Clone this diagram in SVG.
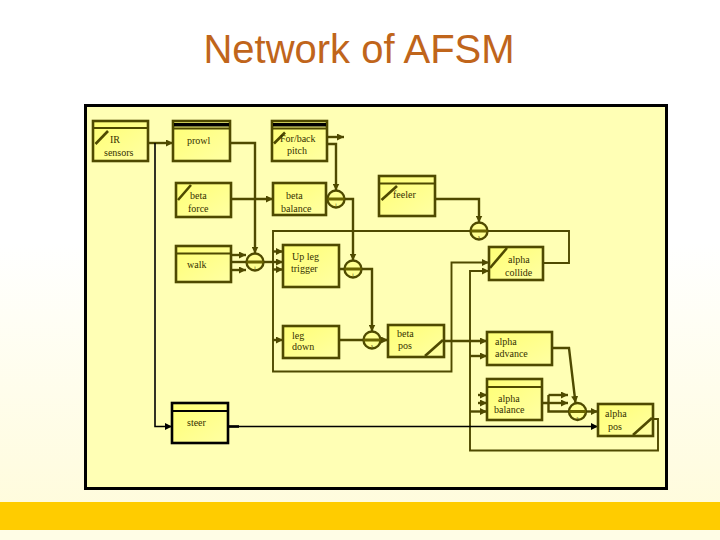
<svg xmlns="http://www.w3.org/2000/svg" width="720" height="540" viewBox="0 0 720 540">
<defs>
<linearGradient id="bg" x1="0" y1="0" x2="0" y2="1">
<stop offset="0" stop-color="#ffffff"/>
<stop offset="0.45" stop-color="#ffffff"/>
<stop offset="1" stop-color="#fffbd8"/>
</linearGradient>
<linearGradient id="bf" x1="0" y1="0" x2="1" y2="1">
<stop offset="0" stop-color="#ffff74"/>
<stop offset="1" stop-color="#ffffa4"/>
</linearGradient>
<marker id="a" markerWidth="7" markerHeight="7" refX="7" refY="3.5" orient="auto" markerUnits="userSpaceOnUse">
<path d="M0,0 L7,3.5 L0,7z" fill="#4f4a00"/>
</marker>
<marker id="ab" markerWidth="7" markerHeight="7" refX="7" refY="3.5" orient="auto" markerUnits="userSpaceOnUse">
<path d="M0,0 L7,3.5 L0,7z" fill="#000"/>
</marker>
<style>
.box{fill:url(#bf);stroke:#4f4a00;stroke-width:2.6}
.bk{fill:url(#bf);stroke:#000;stroke-width:2.6}
.hl{stroke:#4f4a00;stroke-width:2}
.sl{stroke:#4f4a00;stroke-width:2.6}
.t{font-family:"Liberation Serif","Times New Roman",serif;font-size:10px;fill:#363100}
.s{font-family:"Liberation Serif",serif;font-size:5px;fill:#3d3800}
.w{fill:none;stroke:#4f4a00;stroke-width:2.4}
.th{fill:none;stroke:#4f4a00;stroke-width:1.9}
.blk{fill:none;stroke:#000;stroke-width:1.6}
.c{fill:#ffff90;stroke:#4f4a00;stroke-width:2.4}
.cb{fill:#6b6500}
</style>
</defs>
<rect x="0" y="0" width="720" height="540" fill="url(#bg)"/>
<rect x="0" y="502" width="720" height="28" fill="#ffcc00"/>
<rect x="0" y="530" width="720" height="10" fill="#fffde6"/>
<text x="359" y="63" text-anchor="middle" font-family="Liberation Sans, Arial, sans-serif" font-size="40" fill="#c0651b">Network of AFSM</text>
<rect x="85.5" y="105.5" width="581" height="383" fill="#ffffb5" stroke="#000" stroke-width="3"/>

<g id="connectors">
<path class="w" d="M148,143 H173" marker-end="url(#a)"/>
<path class="blk" d="M155,143 V426.5 H172" marker-end="url(#ab)"/>
<path class="w" d="M230,143 H255 V253.5" marker-end="url(#a)"/>
<path class="w" d="M231,199 H273" marker-end="url(#a)"/>
<path class="w" d="M326,199 H344.5"/>
<path class="w" d="M327,137 H344" marker-end="url(#a)"/>
<path class="w" d="M327,144 H336 V190.5" marker-end="url(#a)"/>
<path class="w" d="M344.5,199 H353 V260.5" marker-end="url(#a)"/>
<path class="w" d="M231,255 H246" marker-end="url(#a)"/>
<path class="w" d="M231,262 H247"/>
<path class="w" d="M231,270 H246" marker-end="url(#a)"/>
<path class="w" d="M263.5,262 H283" marker-end="url(#a)"/>
<path class="w" d="M339,269 H372 V331.5" marker-end="url(#a)"/>
<path class="w" d="M339,340 H388" marker-end="url(#a)"/>
<path class="w" d="M435,199 H479 V222.5" marker-end="url(#a)"/>
<path class="th" d="M543,263 H569 V231 H273 V371.5 H451.5 V262.5 H489" marker-end="url(#a)"/>
<path class="w" d="M273,251.5 H283" marker-end="url(#a)"/>
<path class="w" d="M273,269.5 H283" marker-end="url(#a)"/>
<path class="w" d="M273,340 H283" marker-end="url(#a)"/>
<path class="th" d="M653,419 H658 V450.5 H470 V271 H489" marker-end="url(#a)"/>
<path class="w" d="M470,356 H487" marker-end="url(#a)"/>
<path class="w" d="M470,411.5 H487" marker-end="url(#a)"/>
<path class="w" d="M478,395 H487" marker-end="url(#a)"/>
<path class="w" d="M478,403 H487" marker-end="url(#a)"/>
<path class="w" d="M444,341 H487" marker-end="url(#a)"/>
<path class="w" d="M552,348 H569 L575.5,403" marker-end="url(#a)"/>
<path class="w" d="M542,403 H548.5 M548.5,395 V411.5 H569"/>
<path class="w" d="M548.5,395 H568" marker-end="url(#a)"/>
<path class="w" d="M548.5,403 H568" marker-end="url(#a)"/>
<path class="w" d="M586,411.5 H598" marker-end="url(#a)"/>
<path class="blk" d="M228,426.5 H598" marker-end="url(#ab)"/>
<path d="M228,426.5 H239" stroke="#000" stroke-width="2.6"/>
</g>

<g id="c1"><circle class="c" cx="336" cy="199" r="8.5"/><rect class="cb" x="327.5" y="197.5" width="17" height="3"/><text class="s" x="336" y="206" text-anchor="middle">i</text></g>
<g id="c2"><circle class="c" cx="255" cy="262" r="8.5"/><rect class="cb" x="246.5" y="260.5" width="17" height="3"/><text class="s" x="255" y="269" text-anchor="middle">i</text></g>
<g id="c3"><circle class="c" cx="353" cy="269" r="8.5"/><rect class="cb" x="344.5" y="267.5" width="17" height="3"/><text class="s" x="353" y="276" text-anchor="middle">i</text></g>
<g id="c4"><circle class="c" cx="372" cy="340" r="8.5"/><rect class="cb" x="363.5" y="338.5" width="17" height="3"/><text class="s" x="372" y="347" text-anchor="middle">s</text></g>
<g id="c5"><circle class="c" cx="479" cy="231" r="8.5"/><rect class="cb" x="470.5" y="229.5" width="17" height="3"/><text class="s" x="479" y="238" text-anchor="middle">s</text></g>
<g id="c6"><circle class="c" cx="577.5" cy="411.5" r="8.5"/><rect class="cb" x="569" y="410" width="17" height="3"/><text class="s" x="577.5" y="418.5" text-anchor="middle">s</text></g>

<g id="ir-sensors"><rect class="box" x="93" y="121" width="55" height="40"/><line class="hl" x1="93" y1="128" x2="148" y2="128"/><line class="sl" x1="95.5" y1="144" x2="108" y2="131"/><text class="t" x="110" y="143">IR</text><text class="t" x="104" y="156">sensors</text></g>
<g id="prowl"><rect class="box" x="173" y="121" width="57" height="40"/><rect x="174" y="123" width="55" height="3.5" fill="#000"/><line class="hl" x1="173" y1="128.5" x2="230" y2="128.5"/><text class="t" x="187" y="144">prowl</text></g>
<g id="forback-pitch"><rect class="box" x="272" y="121" width="55" height="40"/><rect x="273" y="123" width="53" height="3.5" fill="#000"/><line class="hl" x1="272" y1="128.5" x2="327" y2="128.5"/><line class="sl" x1="274" y1="143.5" x2="285" y2="132.5"/><text class="t" x="280" y="142">For/back</text><text class="t" x="287" y="154">pitch</text></g>
<g id="beta-force"><rect class="box" x="176" y="183" width="55" height="34"/><line class="sl" x1="178" y1="200" x2="191" y2="185"/><text class="t" x="190" y="199">beta</text><text class="t" x="188" y="212">force</text></g>
<g id="beta-balance"><rect class="box" x="273" y="183" width="53" height="32"/><text class="t" x="286" y="199">beta</text><text class="t" x="281" y="212">balance</text></g>
<g id="feeler"><rect class="box" x="379" y="176" width="56" height="40"/><line class="hl" x1="379" y1="183.5" x2="435" y2="183.5"/><line class="sl" x1="381.5" y1="200" x2="397" y2="186"/><text class="t" x="393" y="198">feeler</text></g>
<g id="walk"><rect class="box" x="176" y="246" width="55" height="36"/><line class="hl" x1="176" y1="253.5" x2="231" y2="253.5"/><text class="t" x="187" y="268">walk</text></g>
<g id="up-leg-trigger"><rect class="box" x="283" y="245" width="56" height="42"/><text class="t" x="292" y="260">Up leg</text><text class="t" x="291" y="272">trigger</text></g>
<g id="alpha-collide"><rect class="box" x="489" y="247" width="54" height="33"/><line class="sl" x1="490" y1="268" x2="507" y2="248"/><text class="t" x="508" y="263">alpha</text><text class="t" x="505" y="276">collide</text></g>
<g id="leg-down"><rect class="box" x="283" y="326" width="56" height="32"/><text class="t" x="292" y="339">leg</text><text class="t" x="292" y="350">down</text></g>
<g id="beta-pos"><rect class="box" x="388" y="325" width="56" height="32"/><line class="sl" x1="425" y1="356" x2="443" y2="340"/><text class="t" x="397" y="337">beta</text><text class="t" x="398" y="349">pos</text></g>
<g id="alpha-advance"><rect class="box" x="487" y="332" width="65" height="33"/><text class="t" x="495" y="345">alpha</text><text class="t" x="495" y="357">advance</text></g>
<g id="alpha-balance"><rect class="box" x="487" y="379" width="55" height="41"/><line class="hl" x1="487" y1="387" x2="542" y2="387"/><text class="t" x="498" y="402">alpha</text><text class="t" x="494" y="413">balance</text></g>
<g id="alpha-pos"><rect class="box" x="598" y="404" width="55" height="32"/><line class="sl" x1="633" y1="435" x2="652" y2="418"/><text class="t" x="605" y="417">alpha</text><text class="t" x="608" y="430">pos</text></g>
<g id="steer"><rect class="bk" x="172" y="403" width="56" height="40"/><line x1="172" y1="411" x2="228" y2="411" stroke="#000" stroke-width="2"/><text class="t" x="187" y="426">steer</text></g>
</svg>
